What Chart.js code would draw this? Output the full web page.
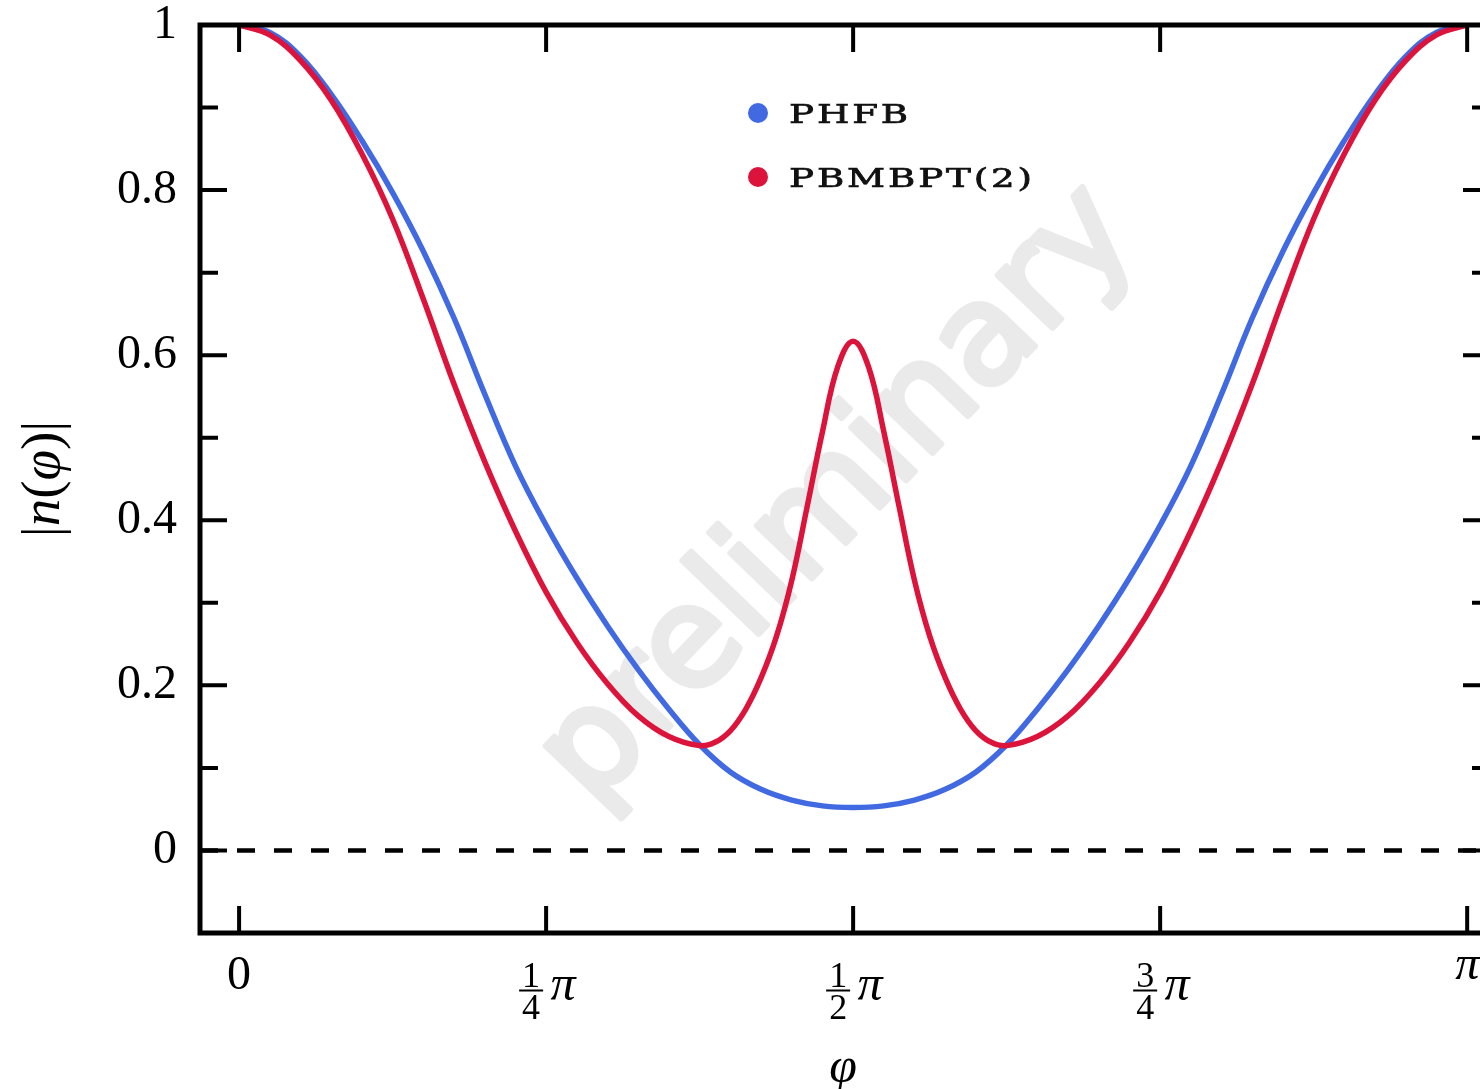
<!DOCTYPE html>
<html><head><meta charset="utf-8">
<script src="https://cdn.jsdelivr.net/npm/chart.js@4.4.1/dist/chart.umd.min.js"></script>
<style>
html,body{margin:0;padding:0;background:#fff;overflow:hidden;width:1480px;height:1089px;}
#wrap{position:absolute;left:0;top:0;width:1500px;height:1089px;}
canvas{display:block;}
</style></head><body>
<div id="wrap"><canvas id="c" width="1500" height="1089"></canvas></div>
<script>
const PI = Math.PI;
// axis limits (x in radians)
const xMin = -0.1, xMax = 3.2;
const yMin = -0.1, yMax = 1.0;

// PHFB  (phi in units of pi)
const phfbPhi = [0,0.025,0.05,0.075,0.1,0.125,0.15,0.175,0.2,0.225,0.25,0.275,0.3,0.325,0.35,0.375,0.4,0.425,0.45,0.475,0.5,
  0.525,0.55,0.575,0.6,0.625,0.65,0.675,0.7,0.725,0.75,0.775,0.8,0.825,0.85,0.875,0.9,0.925,0.95,0.975,1];
const phfbValues = [1.000,0.991,0.962,0.916,0.860,0.797,0.726,0.645,0.553,0.466,0.394,0.330,0.272,0.219,0.171,0.128,0.095,0.074,0.061,0.054,0.052,
  0.054,0.061,0.074,0.095,0.128,0.171,0.219,0.272,0.330,0.394,0.466,0.553,0.645,0.726,0.797,0.860,0.916,0.962,0.991,1.000];

// PBMBPT(2)
const pbmbptPhi = [0,0.025,0.05,0.075,0.1,0.125,0.15,0.175,0.2,0.225,0.25,0.275,0.3,0.325,0.35,0.375,0.3875,0.4,0.4125,0.425,0.4375,0.45,0.4625,0.475,0.4875,0.5,
  0.5125,0.525,0.5375,0.55,0.5625,0.575,0.5875,0.6,0.6125,0.625,0.65,0.675,0.7,0.725,0.75,0.775,0.8,0.825,0.85,0.875,0.9,0.925,0.95,0.975,1];
const pbmbptValues = [1.000,0.988,0.957,0.909,0.844,0.765,0.668,0.565,0.471,0.387,0.313,0.252,0.202,0.163,0.138,0.127,0.131,0.145,0.171,0.209,0.259,0.327,0.416,0.507,0.586,0.617,
  0.586,0.507,0.416,0.327,0.259,0.209,0.171,0.145,0.131,0.127,0.138,0.163,0.202,0.252,0.313,0.387,0.471,0.565,0.668,0.765,0.844,0.909,0.957,0.988,1.000];

const seriesLabels = ['PHFB', 'PBMBPT(2)'];
const seriesColors = ['#4169E1', '#DC143C'];

const xTickValues = [0, 0.25, 0.5, 0.75, 1];   // units of pi
const xTickNum = ['', '1', '1', '3', ''];
const xTickDen = ['', '4', '2', '4', ''];
const xTickSym = ['0', 'π', 'π', 'π', 'π'];
const yTickValues = [0, 0.2, 0.4, 0.6, 0.8, 1];
const yTickLabels = ['0', '0.2', '0.4', '0.6', '0.8', '1'];
const yMinorTicks = [0.1, 0.3, 0.5, 0.7, 0.9];
const xTitle = 'φ';
const yTitleParts = [['|', false], ['n', true], ['(', false], ['φ', true], [')', false], ['|', false]];
const watermarkText = 'preliminary';

const SERIF = '"Liberation Serif", "Times New Roman", serif';

const deco = {
  id: 'deco',
  beforeDatasetsDraw(chart) {
    const ctx = chart.ctx;
    ctx.save();
    ctx.translate(840, 497);
    ctx.rotate(-PI / 4 - 0.02);
    ctx.font = '139px "DejaVu Sans", sans-serif';
    ctx.fillStyle = '#eaeaea';
    ctx.strokeStyle = '#eaeaea';
    ctx.lineWidth = 6;
    ctx.lineJoin = 'round';
    ctx.textAlign = 'center';
    ctx.textBaseline = 'middle';
    ctx.fillText(watermarkText, 0, 0);
    ctx.strokeText(watermarkText, 0, 0);
    ctx.restore();
  },
  afterDatasetsDraw(chart) {
    const ctx = chart.ctx, a = chart.chartArea, xs = chart.scales.x, ys = chart.scales.y;
    ctx.save();
    // frame
    ctx.strokeStyle = '#000';
    ctx.lineWidth = 5;
    ctx.strokeRect(a.left, a.top, a.right - a.left, a.bottom - a.top);
    // ticks
    ctx.lineWidth = 4;
    ctx.beginPath();
    yTickValues.forEach(v => {
      const py = ys.getPixelForValue(v);
      ctx.moveTo(a.left, py); ctx.lineTo(a.left + 27, py);
      ctx.moveTo(a.right, py); ctx.lineTo(a.right - 27, py);
    });
    yMinorTicks.forEach(v => {
      const py = ys.getPixelForValue(v);
      ctx.moveTo(a.left, py); ctx.lineTo(a.left + 18, py);
      ctx.moveTo(a.right, py); ctx.lineTo(a.right - 18, py);
    });
    xTickValues.forEach(v => {
      const px = xs.getPixelForValue(v * PI);
      ctx.moveTo(px, a.top); ctx.lineTo(px, a.top + 27);
      ctx.moveTo(px, a.bottom); ctx.lineTo(px, a.bottom - 27);
    });
    ctx.stroke();

    ctx.fillStyle = '#000';
    // y tick labels
    ctx.font = '48px ' + SERIF;
    ctx.textAlign = 'right';
    ctx.textBaseline = 'middle';
    yTickValues.forEach((v, i) => {
      ctx.fillText(yTickLabels[i], a.left - 23, ys.getPixelForValue(v));
    });

    // x tick labels
    ctx.textBaseline = 'alphabetic';
    xTickValues.forEach((v, i) => {
      const px = xs.getPixelForValue(v * PI);
      if (!xTickNum[i]) {
        ctx.font = (xTickSym[i] === 'π' ? 'italic ' : '') + '48px ' + SERIF;
        ctx.textAlign = 'center';
        const m = ctx.measureText(xTickSym[i]);
        ctx.fillText(xTickSym[i], px, 957 + m.actualBoundingBoxAscent);
      } else {
        ctx.font = '36px ' + SERIF;
        ctx.textAlign = 'center';
        ctx.fillText(xTickNum[i], px - 15, 987);
        ctx.fillText(xTickDen[i], px - 15, 1019);
        ctx.fillRect(px - 27, 989.5, 24, 2);
        ctx.font = 'italic 50px ' + SERIF;
        ctx.fillText(xTickSym[i], px + 17, 1000);
      }
    });

    // x title
    ctx.font = 'italic 50px ' + SERIF;
    ctx.textAlign = 'center';
    ctx.fillText(xTitle, 843, 1082);

    // y title (rotated)
    ctx.save();
    ctx.translate(45, 479);
    ctx.rotate(-PI / 2);
    ctx.textAlign = 'left';
    ctx.textBaseline = 'middle';
    let total = 0;
    const widths = yTitleParts.map(([t, it]) => {
      ctx.font = (it ? 'italic ' : '') + '55px ' + SERIF;
      const w = ctx.measureText(t).width; total += w; return w;
    });
    let cx = -total / 2;
    yTitleParts.forEach(([t, it], i) => {
      ctx.font = (it ? 'italic ' : '') + '55px ' + SERIF;
      ctx.fillText(t, cx, 0);
      cx += widths[i];
    });
    ctx.restore();

    // legend
    const legY = [123, 187];
    chart.data.datasets.slice(0, 2).forEach((ds, i) => {
      ctx.fillStyle = ds.borderColor;
      ctx.beginPath();
      ctx.arc(758, legY[i] - 10, 10, 0, 2 * PI);
      ctx.fill();
      ctx.save();
      ctx.fillStyle = '#111';
      ctx.strokeStyle = '#111';
      ctx.lineWidth = 0.7;
      ctx.translate(789, legY[i]);
      ctx.scale(1.43, 1);
      ctx.font = '26px "DejaVu Serif", serif';
      ctx.letterSpacing = '2px';
      ctx.textAlign = 'left';
      ctx.textBaseline = 'alphabetic';
      ctx.fillText(ds.label, 0, 0);
      ctx.strokeText(ds.label, 0, 0);
      ctx.restore();
    });
    ctx.restore();
  }
};

new Chart(document.getElementById('c').getContext('2d'), {
  type: 'line',
  data: {
    datasets: [
      { label: seriesLabels[0], data: phfbPhi.map((p, i) => ({ x: p * PI, y: phfbValues[i] })),
        borderColor: seriesColors[0], borderWidth: 5.5, pointRadius: 0, tension: 0.4,
        borderCapStyle: 'round', borderJoinStyle: 'round', fill: false, order: 2 },
      { label: seriesLabels[1], data: pbmbptPhi.map((p, i) => ({ x: p * PI, y: pbmbptValues[i] })),
        borderColor: seriesColors[1], borderWidth: 5.5, pointRadius: 0, tension: 0.4,
        borderCapStyle: 'round', borderJoinStyle: 'round', fill: false, order: 1 },
      { label: 'zero', data: [{ x: xMin, y: 0 }, { x: xMax, y: 0 }],
        borderColor: '#000', borderWidth: 4.5, borderDash: [18, 19], pointRadius: 0, fill: false, order: 3 }
    ]
  },
  options: {
    responsive: false, animation: false, devicePixelRatio: 1, events: [],
    layout: { padding: { left: 200, top: 25, right: 10, bottom: 156 } },
    plugins: { legend: { display: false }, tooltip: { enabled: false } },
    scales: {
      x: { type: 'linear', min: xMin, max: xMax, display: false },
      y: { type: 'linear', min: yMin, max: yMax, display: false }
    }
  },
  plugins: [deco]
});
</script>
</body></html>
